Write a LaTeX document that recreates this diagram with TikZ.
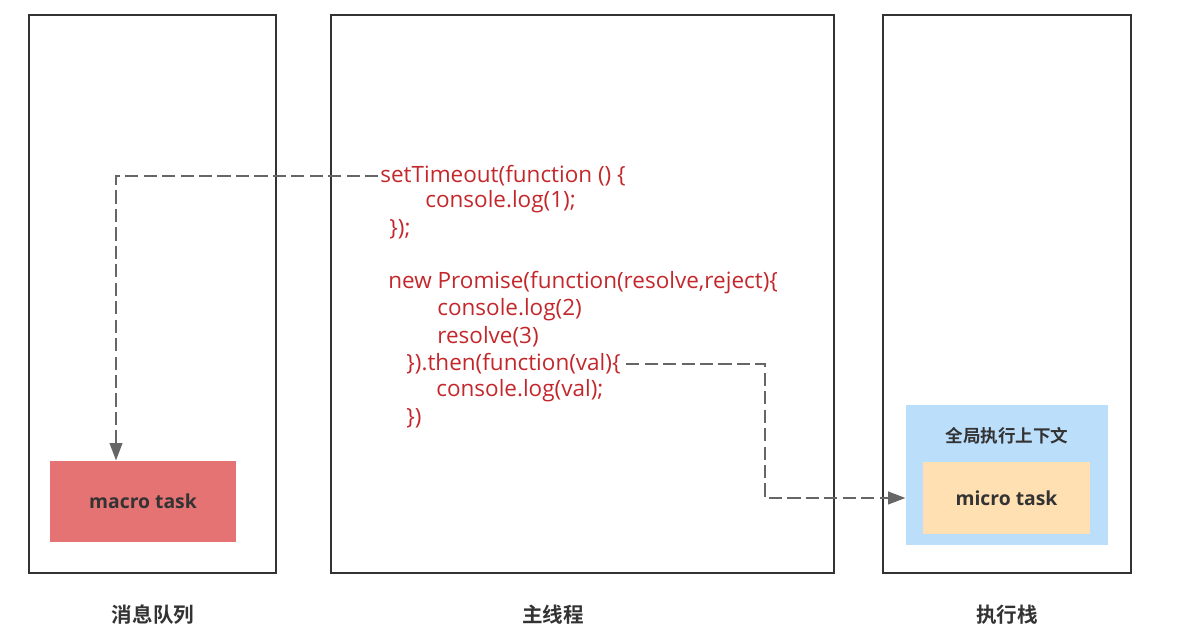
\documentclass[tikz,border=0pt]{standalone}
\usepackage{fontspec}
\setmainfont{Open Sans}
\newfontfamily\cjk{Noto Sans CJK SC}[BoldFont={Noto Sans CJK SC Bold}]
\usetikzlibrary{arrows.meta,positioning}
\definecolor{codered}{HTML}{C3272B}
\definecolor{macrored}{HTML}{E57373}
\definecolor{ctxblue}{HTML}{BBDEFB}
\definecolor{microorange}{HTML}{FFE0B2}
\definecolor{framegray}{HTML}{333333}
\definecolor{linkgray}{HTML}{666666}

\begin{document}
\begin{tikzpicture}[x=0.02cm,y=-0.02cm,
  frame/.style={draw=framegray,line width=1.1pt},
  code/.style={anchor=west,inner sep=0pt,text=codered,font=\fontsize{12.8}{14}\selectfont},
  task/.style={inner sep=0pt,font=\bfseries\fontsize{11}{13}\selectfont,text=framegray},
  title/.style={font=\cjk\bfseries\fontsize{11.7}{14}\selectfont,text=framegray},
  link/.style={draw=linkgray,line width=1.6pt,dash pattern=on 7.5pt off 3pt,
    -{Triangle[length=10pt,width=7pt]}}]
  \useasboundingbox (0,0) rectangle (1196,644);
  % Columns
  \draw[frame] (29,15) rectangle (276,573);
  \draw[frame] (331,15) rectangle (834,573);
  \draw[frame] (883,15) rectangle (1131,573);
  \node[title] (queue) at (153,615) {消息队列};
  \node[title] (mainthread) at (553,615) {主线程};
  \node[title] (stack) at (1007,615) {执行栈};
  % Tasks
  \node[task,fill=macrored,minimum width=3.72cm,minimum height=1.62cm] (macro) at (143,501.5) {macro task};
  \node[fill=ctxblue,minimum width=4.04cm,minimum height=2.8cm] (ctx) at (1007,475) {};
  \node[title,font=\cjk\bfseries\fontsize{10}{12}\selectfont] (ctxtitle) at (1007,436) {全局执行上下文};
  \node[task,fill=microorange,minimum width=3.34cm,minimum height=1.44cm] (micro) at (1006.5,498) {micro task};
  % Code lines
  \foreach \i/\x/\y/\txt in {
    1/380/176/{setTimeout(function () \{},
    2/425/202/{console.log(1);},
    3/389/229/{\});},
    4/388/283/{new Promise(function(resolve,reject)\{},
    5/437/310/{console.log(2)},
    6/437/337/{resolve(3)},
    7/406/364/{\}).then(function(val)\{},
    8/436/391/{console.log(val);},
    9/406/418/{\})}}
    \node[code] (l\i) at (\x,\y) {\txt};
  % Links
  \coordinate (drop) at (116,176);
  \coordinate (bend) at (765,368);
  \draw[link,shorten <=1pt] (l1.west) -- (drop) -- (drop |- macro.north);
  \draw[link,shorten <=3pt] (l7.east) -- (l7.east -| bend) |- (micro.west -| ctx.west);
\end{tikzpicture}
\end{document}
